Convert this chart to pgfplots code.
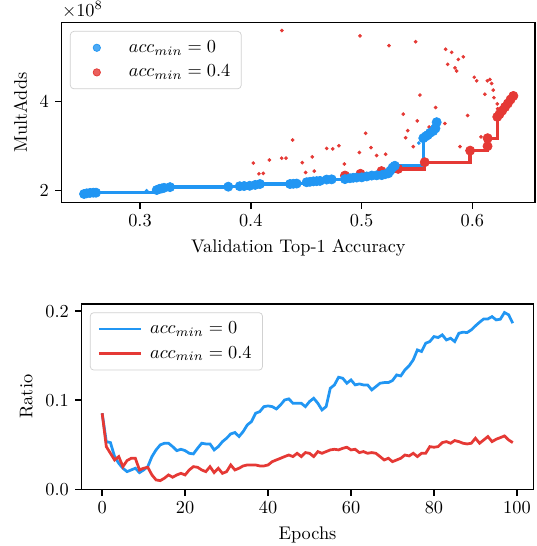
\documentclass[border=0pt]{standalone}
\usepackage{pgfplots}
\pgfplotsset{compat=1.18}
\definecolor{cblue}{HTML}{2196F3}
\definecolor{cred}{HTML}{E53935}

\pgfplotsset{
  mpl/.style={
    scale only axis,
    axis line style={line width=0.8pt},
    tick align=outside, xtick pos=bottom, ytick pos=left,
    major tick length=3.5pt,
    every tick/.style={black, line width=0.8pt},
    legend cell align=left,
    legend style={at={(0,1)}, anchor=north west, xshift=4.5pt, yshift=-4.5pt,
      draw=black!18, rounded corners=2pt, fill=white, fill opacity=0.8, text opacity=1,
      inner xsep=4pt, inner ysep=3pt, row sep=1.5pt},
  },
  dotleg/.style={legend image code/.code={%
    \path[draw=none,fill=none] (0pt,-2pt) rectangle (26pt,2pt);
    \draw[##1] plot coordinates {(10.5pt,0pt)};}},
  lineleg/.style={legend image code/.code={%
    \path[draw=none,fill=none] (0pt,-2pt) rectangle (26pt,2pt);
    \draw[##1] (0pt,0pt) -- (23pt,0pt);}},
}

\begin{document}
\begin{tikzpicture}
\useasboundingbox (0,0) rectangle (292.87pt,298.33pt);

% ---- top: MultAdds vs accuracy ----
\begin{axis}[mpl, dotleg, name=top,
  at={(33.7pt,187.8pt)}, anchor=south west,
  width=258.6pt, height=98.1pt,
  xmin=0.2293, xmax=0.6565, ymin=1.739, ymax=5.775,
  xtick={0.3,0.4,0.5,0.6}, ytick={2,4},
  xlabel={Validation Top-1 Accuracy}, ylabel={MultAdds}]

% other sampled architectures, acc_min = 0.4
\addplot[only marks, mark=*, mark size=0.8pt, cred, forget plot] coordinates {
(0.428,5.60) (0.4986,5.48) (0.5247,5.26) (0.5488,5.35) (0.5759,5.18) (0.5813,5.11)
(0.5918,5.01) (0.5873,4.95) (0.5777,4.84) (0.5843,4.76) (0.5858,4.69) (0.6017,4.55)
(0.6039,4.47) (0.6135,4.47) (0.6159,4.50) (0.6174,4.41) (0.6188,4.26) (0.6113,4.17)
(0.6195,4.09) (0.6225,3.95) (0.6228,3.84) (0.5527,4.15) (0.5669,3.87) (0.5376,3.72)
(0.5503,3.57) (0.5957,3.69) (0.5752,3.51) (0.5416,3.35) (0.5397,3.19) (0.5467,2.99)
(0.5610,3.43) (0.5037,3.29) (0.5085,2.97) (0.4980,2.86) (0.5136,2.79) (0.5217,2.82)
(0.5888,2.99) (0.6078,3.21) (0.4378,3.14) (0.4685,2.95) (0.4739,2.94) (0.4796,3.01)
(0.4555,2.76) (0.4279,2.73) (0.4318,2.73) (0.4167,2.69) (0.4023,2.62) (0.4465,2.63)
(0.4844,2.60) (0.4495,2.41) (0.4573,2.44) (0.4074,2.38) (0.4113,2.39)
};
% pareto front, acc_min = 0.4
\addplot[const plot, cred, line width=1.8pt, forget plot] coordinates {
(0.485,2.34) (0.499,2.38) (0.518,2.44) (0.533,2.49) (0.557,2.64) (0.598,2.90)
(0.6137,3.00) (0.6138,3.18) (0.6225,3.66) (0.6245,3.72) (0.627,3.80) (0.6295,3.88)
(0.632,3.96) (0.6345,4.05) (0.637,4.13)
};
\addplot[only marks, mark=*, mark size=2.5pt, cred, forget plot] coordinates {
(0.485,2.34) (0.499,2.38) (0.518,2.44) (0.533,2.49) (0.557,2.64) (0.598,2.90)
(0.6137,3.00) (0.6138,3.18) (0.6225,3.66) (0.6245,3.72) (0.627,3.80) (0.6295,3.88)
(0.632,3.96) (0.6345,4.05) (0.637,4.13)
};
% pareto front, acc_min = 0
\addplot[const plot, cblue, line width=1.8pt, forget plot] coordinates {
(0.2495,1.926) (0.2519,1.94) (0.2549,1.95) (0.2579,1.955) (0.2603,1.955)
(0.3151,2.015) (0.3175,2.04) (0.3196,2.05) (0.3217,2.065) (0.3271,2.08)
(0.3797,2.09) (0.390,2.10) (0.394,2.105) (0.399,2.11) (0.404,2.13) (0.4083,2.15)
(0.4354,2.15) (0.4384,2.155) (0.4414,2.16) (0.4504,2.19) (0.4534,2.20) (0.4565,2.21)
(0.4595,2.215) (0.4625,2.22) (0.4685,2.25) (0.473,2.255) (0.485,2.26) (0.4895,2.28)
(0.4925,2.29) (0.4955,2.295) (0.5002,2.30) (0.5047,2.32) (0.5092,2.34) (0.5137,2.345)
(0.5182,2.35) (0.5212,2.37) (0.5242,2.39) (0.526,2.45) (0.528,2.52) (0.530,2.56)
(0.5557,3.18) (0.5578,3.22) (0.5597,3.25) (0.5618,3.30) (0.5646,3.34) (0.5667,3.40)
(0.5678,3.54)
};
\addplot[only marks, mark=*, mark size=2.5pt, cblue, forget plot] coordinates {
(0.2495,1.926) (0.2519,1.94) (0.2549,1.95) (0.2579,1.955) (0.2603,1.955)
(0.3151,2.015) (0.3175,2.04) (0.3196,2.05) (0.3217,2.065) (0.3271,2.08)
(0.3797,2.09) (0.390,2.10) (0.394,2.105) (0.399,2.11) (0.404,2.13) (0.4083,2.15)
(0.4354,2.15) (0.4384,2.155) (0.4414,2.16) (0.4504,2.19) (0.4534,2.20) (0.4565,2.21)
(0.4595,2.215) (0.4625,2.22) (0.4685,2.25) (0.473,2.255) (0.485,2.26) (0.4895,2.28)
(0.4925,2.29) (0.4955,2.295) (0.5002,2.30) (0.5047,2.32) (0.5092,2.34) (0.5137,2.345)
(0.5182,2.35) (0.5212,2.37) (0.5242,2.39) (0.526,2.45) (0.528,2.52) (0.530,2.56)
(0.5557,3.18) (0.5578,3.22) (0.5597,3.25) (0.5618,3.30) (0.5646,3.34) (0.5667,3.40)
(0.5678,3.54)
};
\addplot[only marks, mark=*, mark size=0.8pt, cblue, forget plot] coordinates {
(0.306,2.00) (0.5517,3.07) (0.5642,3.45)
};

\addlegendimage{only marks, mark=*, mark size=2pt, cblue}
\addlegendentry{$acc_{min}=0$}
\addlegendimage{only marks, mark=*, mark size=2pt, cred}
\addlegendentry{$acc_{min}=0.4$}
\end{axis}
\node[anchor=south west, inner sep=0pt] at ([yshift=2.5pt]top.north west) {$\times10^{8}$};

% ---- bottom: ratio vs epochs ----
\begin{axis}[mpl, lineleg,
  at={(44.6pt,31.0pt)}, anchor=south west,
  width=246.8pt, height=101.2pt,
  xmin=-4.95, xmax=103.95, ymin=0, ymax=0.208,
  xtick={0,20,40,60,80,100}, ytick={0,0.1,0.2},
  yticklabel style={/pgf/number format/.cd,fixed,fixed zerofill,precision=1},
  xlabel={Epochs}, ylabel={Ratio}]

\addplot[cblue, line width=1.5pt] coordinates {
(0,0.0854) (1,0.0535) (2,0.0524) (3,0.0367) (4,0.0292) (5,0.0236) (6,0.0198) (7,0.0217)
(8,0.0236) (9,0.0187) (10,0.0217) (11,0.0254) (12,0.0367) (13,0.0442) (14,0.0498)
(15,0.0517) (16,0.0517) (17,0.0479) (18,0.0434) (19,0.0449) (20,0.0434) (21,0.0404)
(22,0.0397) (23,0.0460) (24,0.0517) (25,0.0509) (26,0.0509) (27,0.0442) (28,0.0479)
(29,0.0535) (30,0.0573) (31,0.0622) (32,0.0637) (33,0.0592) (34,0.0648) (35,0.0723)
(36,0.0760) (37,0.0854) (38,0.0872) (39,0.0928) (40,0.0936) (41,0.0928) (42,0.0902)
(43,0.0947) (44,0.1003) (45,0.1015) (46,0.0966) (47,0.0966) (48,0.0966) (49,0.0928)
(50,0.0985) (51,0.1022) (52,0.0966) (53,0.0891) (54,0.0928) (55,0.1134) (56,0.1172)
(57,0.1258) (58,0.1247) (59,0.1191) (60,0.1228) (61,0.1172) (62,0.1183) (63,0.1172)
(64,0.1172) (65,0.1116) (66,0.1153) (67,0.1191) (68,0.1198) (69,0.1198) (70,0.1221)
(71,0.1284) (72,0.1273) (73,0.1341) (74,0.1386) (75,0.1453) (76,0.1565) (77,0.1547)
(78,0.1640) (79,0.1659) (80,0.1715) (81,0.1704) (82,0.1734) (83,0.1677) (84,0.1696)
(85,0.1659) (86,0.1752) (87,0.1764) (88,0.1760) (89,0.1790) (90,0.1835) (91,0.1876)
(92,0.1913) (93,0.1913) (94,0.1939) (95,0.1902) (96,0.1910) (97,0.1985) (98,0.1959)
(99,0.1865)
};
\addlegendentry{$acc_{min}=0$}

\addplot[cred, line width=1.5pt] coordinates {
(0,0.0854) (1,0.0479) (2,0.0404) (3,0.0329) (4,0.0367) (5,0.0254) (6,0.0322) (7,0.0348)
(8,0.0348) (9,0.0217) (10,0.0236) (11,0.0247) (12,0.0161) (13,0.0105) (14,0.0097)
(15,0.0124) (16,0.0161) (17,0.0135) (18,0.0161) (19,0.0179) (20,0.0161) (21,0.0217)
(22,0.0254) (23,0.0247) (24,0.0217) (25,0.0198) (26,0.0254) (27,0.0187) (28,0.0236)
(29,0.0179) (30,0.0198) (31,0.0273) (32,0.0217) (33,0.0236) (34,0.0262) (35,0.0273)
(36,0.0273) (37,0.0273) (38,0.0262) (39,0.0262) (40,0.0273) (41,0.0310) (42,0.0329)
(43,0.0348) (44,0.0367) (45,0.0385) (46,0.0367) (47,0.0404) (48,0.0367) (49,0.0412)
(50,0.0404) (51,0.0367) (52,0.0423) (53,0.0404) (54,0.0423) (55,0.0442) (56,0.0449)
(57,0.0442) (58,0.0460) (59,0.0472) (60,0.0442) (61,0.0449) (62,0.0412) (63,0.0423)
(64,0.0404) (65,0.0412) (66,0.0404) (67,0.0367) (68,0.0329) (69,0.0348) (70,0.0310)
(71,0.0329) (72,0.0348) (73,0.0385) (74,0.0374) (75,0.0404) (76,0.0367) (77,0.0404)
(78,0.0404) (79,0.0479) (80,0.0472) (81,0.0479) (82,0.0524) (83,0.0535) (84,0.0517)
(85,0.0547) (86,0.0535) (87,0.0517) (88,0.0509) (89,0.0517) (90,0.0573) (91,0.0517)
(92,0.0554) (93,0.0592) (94,0.0535) (95,0.0562) (96,0.0580) (97,0.0599) (98,0.0554)
(99,0.0524)
};
\addlegendentry{$acc_{min}=0.4$}
\end{axis}
\end{tikzpicture}
\end{document}
